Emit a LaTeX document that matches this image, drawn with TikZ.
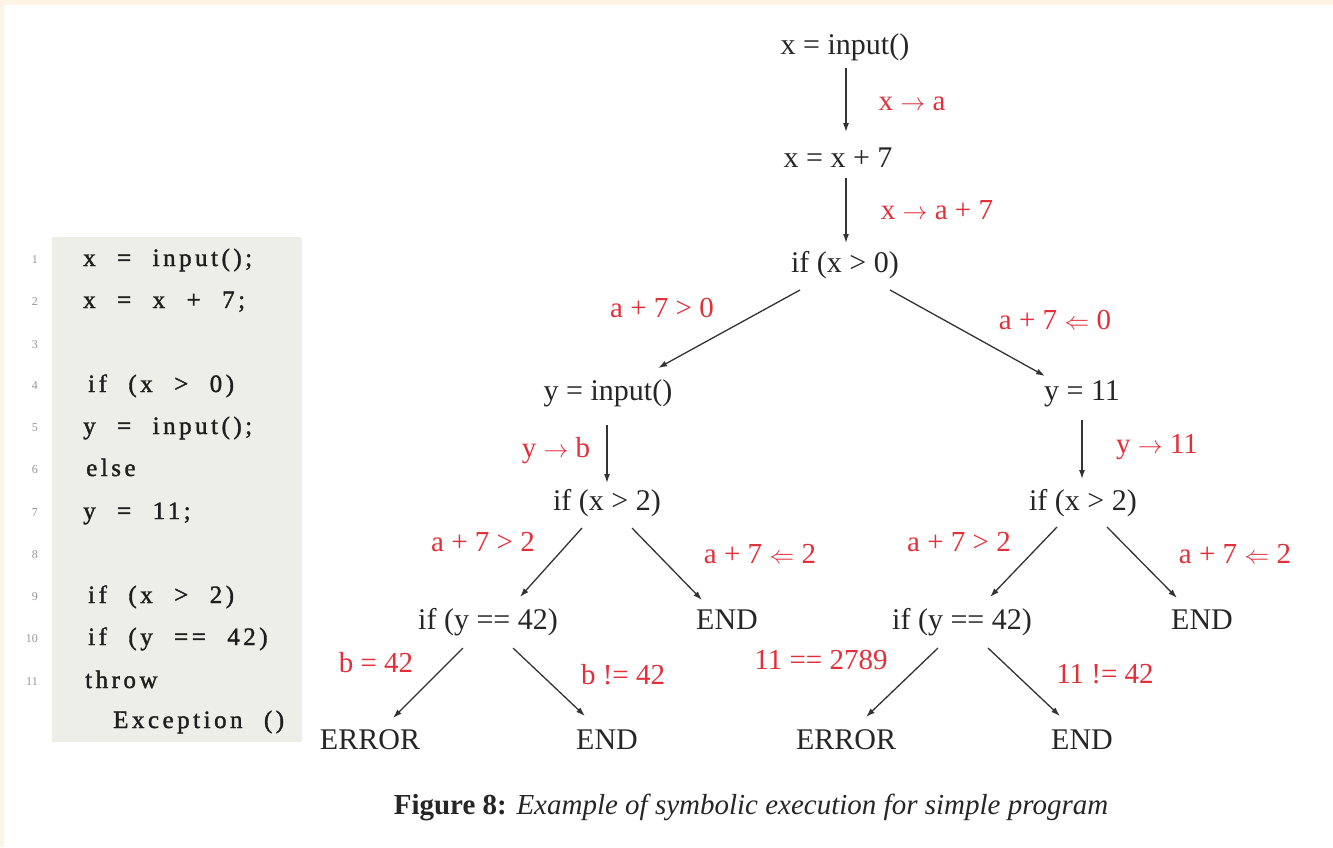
\documentclass[tikz,border=0pt]{standalone}
\usepackage{fontspec}
\setmainfont{Liberation Serif}
\newfontfamily\codefont[LetterSpace=14,WordSpace=2.2,FakeBold=1.5]{Liberation Serif}
\usetikzlibrary{arrows.meta,calc}
\definecolor{cream}{RGB}{252,245,230}
\definecolor{codebg}{RGB}{238,238,233}
\definecolor{lblred}{RGB}{226,48,58}
\definecolor{lnum}{RGB}{150,150,150}
\tikzset{
  stmt/.style={inner sep=0pt, text height=21pt, text depth=6pt, font=\fontsize{30}{32}\selectfont, text=black!85},
  cond/.style={inner sep=0pt, text height=20pt, text depth=6pt, font=\fontsize{29}{31}\selectfont, text=lblred},
  arr/.style={-{Latex[length=9pt,width=6pt]}, line width=1.3pt, draw=black!80},
  codeline/.style={anchor=west, inner sep=0pt, text height=17pt, text depth=5pt, font=\codefont\fontsize{25}{27}\selectfont, text=black!88},
  lineno/.style={anchor=east, inner sep=0pt, font=\fontsize{12}{14}\selectfont, text=lnum},
}
\begin{document}
\begin{tikzpicture}[x=1pt,y=-1pt]
\useasboundingbox (0,0) rectangle (1333,847);
\fill[cream] (0,0) rectangle (1333,847);
\fill[white] (4,5) rectangle (1333,847);
% code block
\fill[codebg] (52,237) rectangle (302,742);
\foreach \n/\y in {1/260,2/302,3/345,4/386,5/428,6/470,7/513,8/555,9/597,10/639,11/682}
  \node[lineno] (ln\n) at (38,\y) {\n};
\node[codeline] (c1) at (83,260) {x = input();};
\node[codeline] (c2) at (83,302) {x = x + 7;};
\node[codeline] (c4) at (88,386) {if (x > 0)};
\node[codeline] (c5) at (83,428) {y = input();};
\node[codeline] (c6) at (86,470) {else};
\node[codeline] (c7) at (83,513) {y = 11;};
\node[codeline] (c9) at (88,597) {if (x > 2)};
\node[codeline] (c10) at (88,639) {if (y == 42)};
\node[codeline] (c11) at (85,682) {throw};
\node[codeline] (c12) at (113,722) {Exception ()};
% tree nodes
\node[stmt] (n1) at (845,47) {x = input()};
\node[stmt] (n2) at (838,160) {x = x + 7};
\node[stmt] (n3) at (845,265) {if (x > 0)};
\node[stmt] (n4) at (608,393) {y = input()};
\node[stmt] (n5) at (1082,393) {y = 11};
\node[stmt] (n6) at (607,503) {if (x > 2)};
\node[stmt] (n7) at (1083,503) {if (x > 2)};
\node[stmt] (n8) at (488,622) {if (y == 42)};
\node[stmt] (e1) at (727,622) {END};
\node[stmt] (n10) at (962,622) {if (y == 42)};
\node[stmt] (e2) at (1202,622) {END};
\node[stmt] (r1) at (370,742) {ERROR};
\node[stmt] (e3) at (607,742) {END};
\node[stmt] (r2) at (846,742) {ERROR};
\node[stmt] (e4) at (1082,742) {END};
% connectors
\draw[arr] ($(n1)+(1,21)$) -- ($(n2)+(8,-28)$);
\draw[arr] ($(n2)+(8,18)$) -- ($(n3)+(1,-22)$);
\draw[arr] ($(n3)+(-45,25)$) -- ($(n4)+(50,-25)$);
\draw[arr] ($(n3)+(45,25)$) -- ($(n5)+(-37,-17)$);
\draw[arr] ($(n4)+(-1,32)$) -- ($(n6)+(0,-20)$);
\draw[arr] ($(n5)+(0,27)$) -- ($(n7)+(-1,-24)$);
\draw[arr] ($(n6)+(-25,25)$) -- ($(n8)+(32,-25)$);
\draw[arr] ($(n6)+(25,25)$) -- ($(e1)+(-25,-22)$);
\draw[arr] ($(n7)+(-26,24)$) -- ($(n10)+(28,-25)$);
\draw[arr] ($(n7)+(24,24)$) -- ($(e2)+(-25,-24)$);
\draw[arr] ($(n8)+(-25,26)$) -- ($(r1)+(23,-24)$);
\draw[arr] ($(n8)+(25,26)$) -- ($(e3)+(-22,-26)$);
\draw[arr] ($(n10)+(-24,26)$) -- ($(r2)+(20,-25)$);
\draw[arr] ($(n10)+(26,26)$) -- ($(e4)+(-22,-26)$);
% labels
\node[cond] (l1) at (912,103) {x $\rightarrow$ a};
\node[cond] (l2) at (937,212) {x $\rightarrow$ a + 7};
\node[cond] (l3) at (662,310) {a + 7 > 0};
\node[cond] (l4) at (1055,322) {a + 7 $\Leftarrow$ 0};
\node[cond] (l5) at (556,450) {y $\rightarrow$ b};
\node[cond] (l6) at (1157,446) {y $\rightarrow$ 11};
\node[cond] (l7) at (483,544) {a + 7 > 2};
\node[cond] (l8) at (760,556) {a + 7 $\Leftarrow$ 2};
\node[cond] (l9) at (959,544) {a + 7 > 2};
\node[cond] (l10) at (1235,556) {a + 7 $\Leftarrow$ 2};
\node[cond] (l11) at (376,665) {b = 42};
\node[cond] (l12) at (623,677) {b != 42};
\node[cond] (l13) at (821,662) {11 == 2789};
\node[cond] (l14) at (1105,676) {11 != 42};
% caption
\node[inner sep=0pt, font=\fontsize{29}{31}\selectfont, text=black!85] (cap) at (751,807)
  {\textbf{Figure 8:} \textit{Example of symbolic execution for simple program}};
\end{tikzpicture}
\end{document}
